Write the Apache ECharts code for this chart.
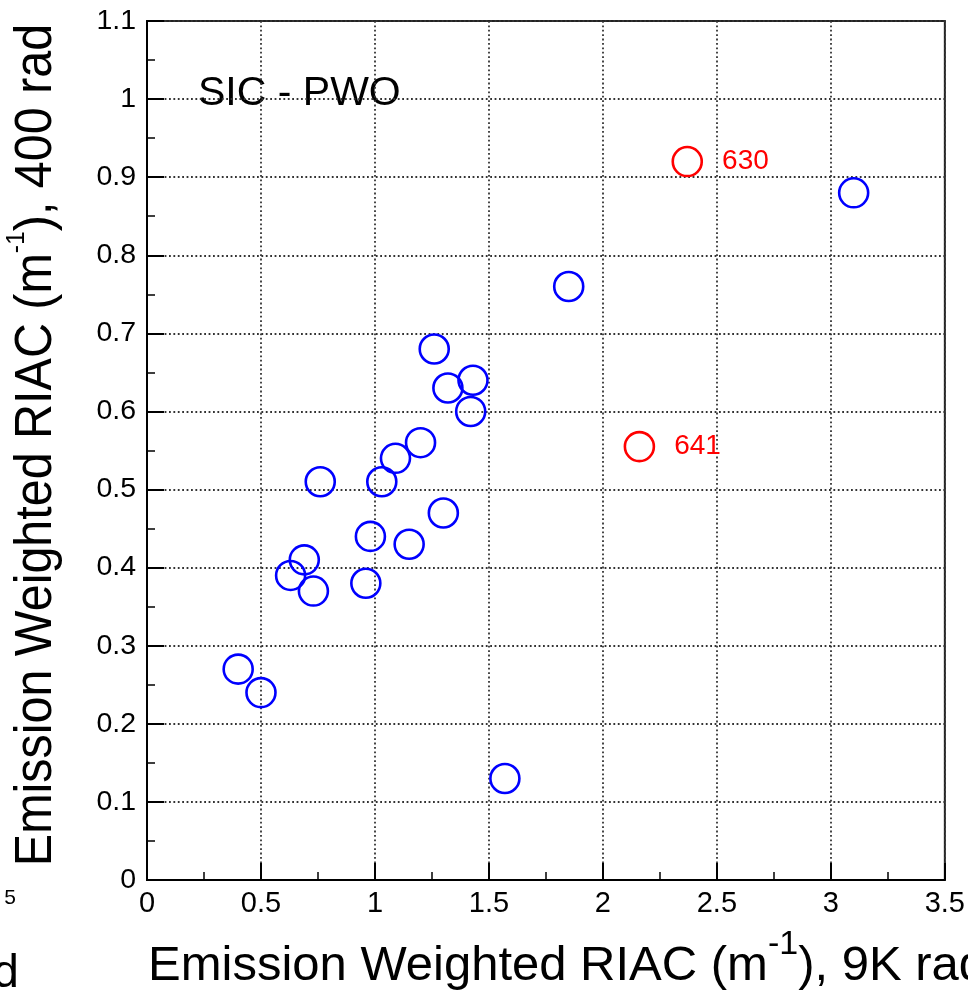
<!DOCTYPE html>
<html><head><meta charset="utf-8">
<script src="https://cdn.jsdelivr.net/npm/echarts@6/dist/echarts.min.js"></script>
<style>html,body{margin:0;padding:0;background:#fff}#c{width:968px;height:1000px}</style>
</head><body><div id="c"></div>
<script>
// ---- data ----
const blueX = [0.40, 0.50, 0.63, 0.69, 0.73, 0.76, 0.96, 0.98, 1.03, 1.09, 1.15, 1.20, 1.26, 1.30, 1.32, 1.42, 1.43, 1.57, 1.85, 3.10];
const blueY = [0.27, 0.24, 0.39, 0.41, 0.37, 0.51, 0.38, 0.44, 0.51, 0.54, 0.43, 0.56, 0.68, 0.47, 0.63, 0.60, 0.64, 0.13, 0.76, 0.88];
const redX = [2.37, 2.16];
const redY = [0.92, 0.555];
const redLabels = ['630', '641'];
const xRange = [0, 3.5];
const xStep = 0.5;
const yRange = [0, 1.1];
const yStep = 0.1;
const xTitle = 'Emission Weighted RIAC (m{sup|-1}), 9K rad';
const yTitle = 'Emission Weighted RIAC (m{sup|-1}), 400 rad';
const panelLabel = 'SIC - PWO';

const FONT = 'Liberation Sans, Arial, Helvetica, sans-serif';
const chart = echarts.init(document.getElementById('c'), null, {renderer: 'canvas'});

const axisCommon = {
  type: 'value',
  axisLine: {show: true, onZero: false, lineStyle: {color: '#000', width: 2}},
  axisTick: {show: true, inside: true, length: 17, lineStyle: {color: '#000', width: 2}},
  minorTick: {show: true, splitNumber: 2, length: 8, lineStyle: {color: '#000', width: 1.5}},
  splitLine: {show: true, lineStyle: {color: '#333', width: 1.8, type: [1.8, 2.6]}},
  minorSplitLine: {show: false}
};

chart.setOption({
  animation: false,
  backgroundColor: '#fff',
  grid: {left: 147, top: 21, width: 808, height: 859, show: true, borderColor: '#222', borderWidth: 2, backgroundColor: 'transparent'},
  xAxis: Object.assign({}, axisCommon, {
    min: xRange[0], max: xRange[1], interval: xStep,
    axisLabel: {color: '#000', fontFamily: FONT, fontSize: 29, margin: 9, showMinLabel: true, showMaxLabel: true}
  }),
  yAxis: Object.assign({}, axisCommon, {
    min: yRange[0], max: yRange[1], interval: yStep,
    axisLabel: {color: '#000', fontFamily: FONT, fontSize: 28.5, margin: 11, showMinLabel: true, showMaxLabel: true}
  }),
  series: [
    {
      type: 'scatter',
      data: blueX.map((x, i) => [x, blueY[i]]),
      symbol: 'circle', symbolSize: 29,
      itemStyle: {color: 'rgba(0,0,0,0)', borderColor: '#0000ff', borderWidth: 2.6, opacity: 1},
      emphasis: {disabled: true}
    },
    {
      type: 'scatter',
      data: redX.map((x, i) => ({value: [x, redY[i]], name: redLabels[i]})),
      symbol: 'circle', symbolSize: 29,
      itemStyle: {color: 'rgba(0,0,0,0)', borderColor: '#ff0000', borderWidth: 2.6, opacity: 1},
      label: {show: true, position: 'right', distance: 19, formatter: p => p.name, color: '#ff0000', fontFamily: FONT, fontSize: 28},
      emphasis: {disabled: true}
    }
  ],
  graphic: [
    {type: 'text', x: 198, y: 94, silent: true,
     style: {text: panelLabel, fill: '#000', fontFamily: FONT, fontSize: 41, align: 'left', verticalAlign: 'middle'}},
    {type: 'text', x: 148, y: 966, silent: true,
     style: {text: xTitle, fill: '#000', fontFamily: FONT, fontSize: 49, align: 'left', verticalAlign: 'middle',
       rich: {sup: {fontFamily: FONT, fontSize: 34, fill: '#000', verticalAlign: 'top', padding: [0, 0, 42, 0]}}}},
    {type: 'text', x: 37, y: 445, rotation: Math.PI / 2, scaleX: 0.95, silent: true,
     style: {text: yTitle, fill: '#000', fontFamily: FONT, fontSize: 51, align: 'center', verticalAlign: 'middle',
       rich: {sup: {fontFamily: FONT, fontSize: 26, fill: '#000', verticalAlign: 'top', padding: [0, 0, 40, 0]}}}},
    {type: 'text', x: 16, y: 898, silent: true,
     style: {text: '5', fill: '#000', fontFamily: FONT, fontSize: 21, align: 'right', verticalAlign: 'middle'}},
    {type: 'text', x: 19, y: 974, silent: true,
     style: {text: 'd', fill: '#000', fontFamily: FONT, fontSize: 47, align: 'right', verticalAlign: 'middle'}}
  ]
});
</script>
</body></html>
